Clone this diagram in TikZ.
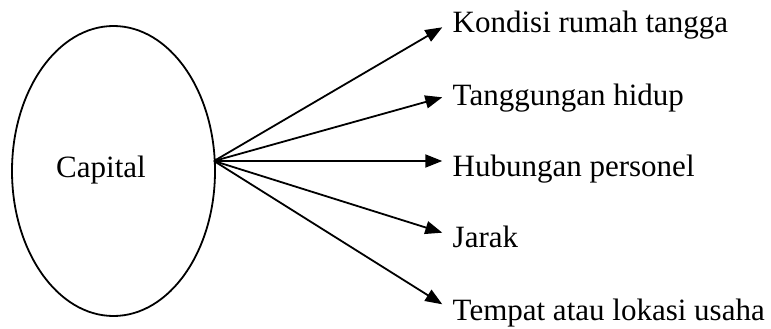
\documentclass[tikz,border=0pt]{standalone}
\usepackage{fontspec}
\setmainfont{Liberation Serif}
\usetikzlibrary{arrows.meta,shapes.geometric}
\begin{document}
\begin{tikzpicture}[x=1pt,y=-1pt,
  lbl/.style={anchor=base west,inner sep=0pt,font=\fontsize{31}{36}\selectfont},
  conn/.style={line width=1.8pt,-{Triangle[length=17pt,width=13pt]}},
  oval/.style={draw,ellipse,line width=1.8pt,minimum width=203pt,minimum height=290pt,inner sep=0pt}]
\useasboundingbox (0,0) rectangle (771,329);
\node[oval] (cap) at (113.5,171) {};
\node[lbl] (capt) at (56,177) {Capital};
\coordinate (o) at (214,161);
\node[lbl] (l1) at (452.5,33) {Kondisi rumah tangga};
\node[lbl] (l2) at (452.5,105) {Tanggungan hidup};
\node[lbl] (l3) at (452.5,176.7) {Hubungan personel};
\node[lbl] (l4) at (452.5,247.3) {Jarak};
\node[lbl] (l5) at (452.5,320) {Tempat atau lokasi usaha};
\coordinate (t1) at (442.3,27.3);
\coordinate (t2) at (442.3,97.3);
\coordinate (t3) at (442.3,161);
\coordinate (t4) at (442.3,232.7);
\coordinate (t5) at (442.3,304.3);
\foreach \i in {1,...,5} \draw[conn] (o) -- (t\i);
\end{tikzpicture}
\end{document}
